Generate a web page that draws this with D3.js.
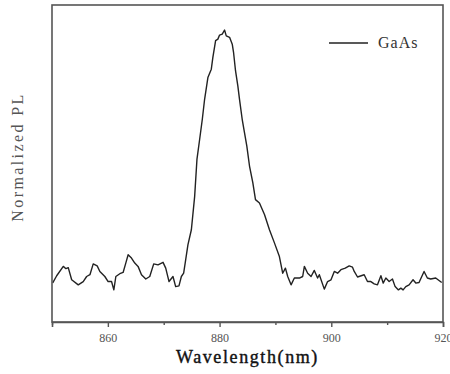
<!DOCTYPE html>
<html>
<head>
<meta charset="utf-8">
<script src="https://cdn.jsdelivr.net/npm/d3@7"></script>
<style>
  body { margin: 0; background: #fff; }
</style>
</head>
<body>
<div class="chart"></div>
<script>
// wavelength (nm)
const wavelength = [
  850.13, 850.84, 852.02, 852.5, 852.91, 853.52, 854.7, 855.59, 856.2, 856.79,
  857.38, 858.09, 858.57, 859.46, 860.05, 860.66, 861.07, 861.43, 862.14, 862.73,
  863.21, 863.63, 864.23, 864.82, 865.41, 866.02, 866.79, 867.5, 868.21, 868.98,
  869.88, 870.36, 870.95, 871.66, 872.14, 872.73, 873.16, 873.57, 873.93, 874.34,
  874.95, 875.54, 875.95, 876.43, 876.91, 877.32, 877.91, 878.52, 878.8, 879.29,
  879.7, 880.0, 880.48, 880.89, 881.2, 881.79, 882.27, 882.5, 882.86, 883.27,
  883.57, 884.05, 884.46, 884.88, 885.36, 885.95, 886.43, 887.14, 888.04, 888.93,
  889.82, 890.71, 891.3, 891.79, 892.2, 892.8, 893.39, 894.29, 894.88, 895.18,
  895.77, 896.38, 896.96, 897.55, 897.86, 898.75, 899.34, 899.95, 900.54, 901.13,
  901.73, 902.5, 903.21, 903.8, 904.11, 904.7, 905.89, 906.48, 907.09, 907.68,
  908.27, 908.88, 909.29, 909.77, 910.36, 910.95, 911.43, 912.02, 912.45, 912.86,
  913.34, 913.93, 914.64, 915.13, 915.71, 916.61, 917.2, 917.8, 918.7, 919.29,
  919.77
];

// normalized PL intensity (GaAs)
const gaasPL = [
  0.0, 0.028, 0.065, 0.056, 0.06, 0.012, -0.008, 0.005, 0.025, 0.032,
  0.075, 0.067, 0.045, 0.025, 0.005, 0.005, -0.028, 0.025, 0.036, 0.041,
  0.078, 0.111, 0.098, 0.078, 0.065, 0.032, 0.015, 0.025, 0.075, 0.071,
  0.081, 0.058, 0.005, 0.025, -0.015, -0.012, 0.025, 0.038, 0.091, 0.151,
  0.21, 0.342, 0.488, 0.567, 0.647, 0.726, 0.812, 0.845, 0.892, 0.958,
  0.964, 0.98, 0.984, 1.0, 0.977, 0.971, 0.944, 0.912, 0.838, 0.779,
  0.726, 0.647, 0.594, 0.541, 0.462, 0.396, 0.329, 0.316, 0.27, 0.21,
  0.158, 0.104, 0.038, 0.058, 0.025, -0.008, 0.019, 0.019, 0.025, 0.065,
  0.038, 0.025, 0.049, 0.019, 0.032, -0.025, 0.005, 0.012, 0.045, 0.038,
  0.052, 0.058, 0.067, 0.062, 0.045, 0.023, 0.032, 0.005, 0.005, -0.004,
  -0.008, 0.028, -0.001, 0.019, 0.005, 0.015, -0.015, -0.028, -0.021, -0.028,
  -0.015, -0.008, 0.012, -0.001, 0.001, 0.045, 0.019, 0.015, 0.019, 0.009,
  0.001
];

const majorTicks = [860, 880, 900, 920];
const minorTicks = [850, 870, 890, 910];
const seriesName = "GaAs";

const data = wavelength.map((w, i) => ({ w: w, v: gaasPL[i] }));

const margin = { top: 5, right: 7, bottom: 52, left: 52 };
const width = 450 - margin.left - margin.right;
const height = 374 - margin.top - margin.bottom;

const serif = "'Liberation Serif', 'DejaVu Serif', serif";

const svg = d3
  .select(".chart")
  .append("svg")
  .attr("width", 450)
  .attr("height", 374)
  .append("g")
  .attr("transform", "translate(" + margin.left + "," + margin.top + ")");

const xScale = d3.scaleLinear().domain([850, 920]).range([0, width]);
const yScale = d3.scaleLinear().domain([-0.155, 1.099]).range([height, 0]);

const line = d3
  .line()
  .x((d) => xScale(d.w))
  .y((d) => yScale(d.v));

svg
  .append("path")
  .datum(data)
  .attr("d", line)
  .attr("fill", "none")
  .attr("stroke", "#222")
  .attr("stroke-width", 1.4)
  .attr("stroke-linejoin", "round");

// frame
svg
  .append("rect")
  .attr("x", 0)
  .attr("y", 0)
  .attr("width", width)
  .attr("height", height)
  .attr("fill", "none")
  .attr("stroke", "#555")
  .attr("stroke-width", 1.6);

// x axis, major + minor ticks
const xAxis = svg
  .append("g")
  .attr("transform", "translate(0," + height + ")")
  .call(d3.axisBottom(xScale).tickValues(majorTicks).tickSize(5).tickPadding(6));
xAxis.select(".domain").attr("stroke", "#555").attr("stroke-width", 1.6);
xAxis.selectAll(".tick line").attr("stroke", "#555").attr("stroke-width", 1.4);
xAxis
  .selectAll(".tick text")
  .attr("fill", "#555")
  .style("font-family", serif)
  .style("font-size", "12px");

svg
  .append("g")
  .attr("transform", "translate(0," + height + ")")
  .call(d3.axisBottom(xScale).tickValues(minorTicks).tickSize(3).tickFormat(""))
  .call((g) => g.select(".domain").remove())
  .selectAll(".tick line")
  .attr("stroke", "#555")
  .attr("stroke-width", 1.4);

svg
  .append("text")
  .attr("x", width / 2)
  .attr("y", height + 41)
  .attr("text-anchor", "middle")
  .style("font-family", serif)
  .style("font-size", "18px")
  .style("letter-spacing", "1.6px")
  .attr("fill", "#111")
  .attr("stroke", "#111")
  .attr("stroke-width", 0.4)
  .text("Wavelength(nm)");

svg
  .append("text")
  .attr("transform", "rotate(-90)")
  .attr("x", -152)
  .attr("y", -29)
  .attr("text-anchor", "middle")
  .style("font-family", serif)
  .style("font-size", "16px")
  .style("letter-spacing", "2.4px")
  .attr("fill", "#555")
  .text("Normalized PL");

// legend
const legend = svg.append("g").attr("transform", "translate(277,38)");
legend
  .append("line")
  .attr("x1", 0)
  .attr("x2", 39)
  .attr("y1", 0)
  .attr("y2", 0)
  .attr("stroke", "#222")
  .attr("stroke-width", 1.4);
legend
  .append("text")
  .attr("x", 49)
  .attr("y", 5)
  .style("font-family", serif)
  .style("font-size", "16px")
  .style("letter-spacing", "1px")
  .attr("fill", "#333")
  .text(seriesName);
</script>
</body>
</html>
